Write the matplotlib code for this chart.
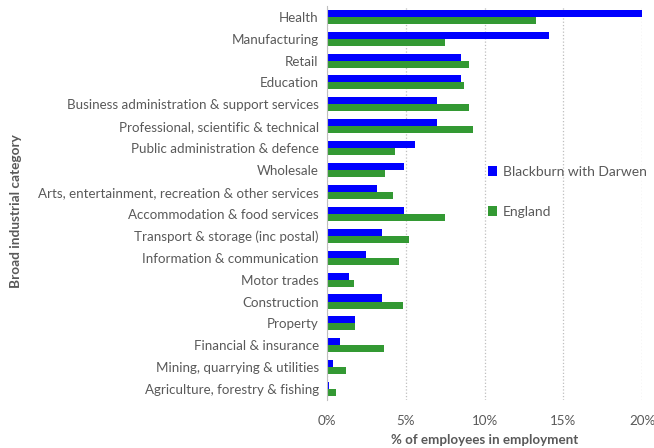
import matplotlib.pyplot as plt
import numpy as np

plt.rcParams['font.family'] = ['Lato', 'DejaVu Sans']

# employment share by broad industrial group (%)
categories = [
    "Health",
    "Manufacturing",
    "Retail",
    "Education",
    "Business administration & support services",
    "Professional, scientific & technical",
    "Public administration & defence",
    "Wholesale",
    "Arts, entertainment, recreation & other services",
    "Accommodation & food services",
    "Transport & storage (inc postal)",
    "Information & communication",
    "Motor trades",
    "Construction",
    "Property",
    "Financial & insurance",
    "Mining, quarrying & utilities",
    "Agriculture, forestry & fishing",
]
blackburn = [20.0, 14.1, 8.5, 8.5, 7.0, 7.0, 5.6, 4.9, 3.2, 4.9, 3.5, 2.5, 1.4, 3.5, 1.8, 0.8, 0.4, 0.1]
england = [13.3, 7.5, 9.0, 8.7, 9.0, 9.3, 4.3, 3.7, 4.2, 7.5, 5.2, 4.6, 1.7, 4.8, 1.8, 3.6, 1.2, 0.6]
xticks = [0, 5, 10, 15, 20]

grey = "#595959"
fig = plt.figure(figsize=(6.54, 4.48), dpi=100)
ax = fig.add_axes([0.5, 0.107, 0.4817, 0.88])

y = np.arange(len(categories))
h = 0.32
ax.barh(y - h / 2, blackburn, height=h, color="#0000FF", label="Blackburn with Darwen")
ax.barh(y + h / 2, england, height=h, color="#339933", label="England")

ax.set_ylim(len(categories) - 0.5, -0.5)
ax.set_xlim(0, 20)
ax.set_yticks(y)
ax.set_yticklabels(categories, fontsize=9.6, color=grey)
ax.set_xticks(xticks)
ax.set_xticklabels([f"{t}%" for t in xticks], fontsize=9.6, color=grey)
ax.tick_params(axis="y", length=0, pad=6)
ax.tick_params(axis="x", length=0, pad=11)

ax.grid(axis="x", linestyle=":", color="#bfbfbf", linewidth=0.9)
ax.set_axisbelow(True)
for s in ["top", "right", "bottom"]:
    ax.spines[s].set_visible(False)
ax.spines["left"].set_color("#bfbfbf")

ax.set_xlabel("% of employees in employment", fontsize=9.6, fontweight="bold", color=grey, labelpad=5)
ax.set_ylabel("Broad industrial category", fontsize=9.8, fontweight="bold", color=grey)
ax.yaxis.set_label_coords(-0.968, 0.48)

ax.legend(loc="upper left", bbox_to_anchor=(0.47, 0.625), frameon=False, fontsize=10,
          labelcolor=grey, handlelength=0.7, handleheight=0.7, handletextpad=0.4,
          labelspacing=2.0)

plt.savefig("out.png", dpi=100)
